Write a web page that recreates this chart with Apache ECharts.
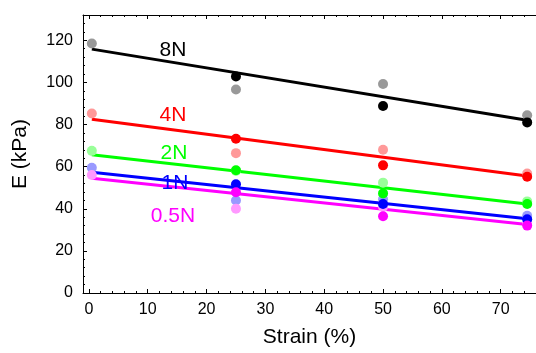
<!DOCTYPE html>
<html>
<head>
<meta charset="utf-8">
<script src="https://cdn.jsdelivr.net/npm/echarts@6/dist/echarts.min.js"></script>
<style>
  html, body { margin: 0; padding: 0; background: #fff; }
  #chart { width: 536px; height: 353px; }
</style>
</head>
<body>
<div id="chart"></div>
<script>
// strain positions of the measurements
const strain = [0.5, 25, 50, 74.5];
// x range of the fitted lines
const fitX = [0.5, 74.5];

// E (kPa), light = sample A, dark = sample B (no dark point at 0)
const e8Light = [118.5, 96.6, 99.2, 84.4];
const e8Dark = [null, 102.8, 88.8, 81.0];
const e4Light = [85.2, 66.4, 68.0, 56.7];
const e4Dark = [null, 73.2, 60.6, 55.2];
const e2Light = [67.5, 58.0, 52.4, 43.5];
const e2Dark = [null, 58.3, 47.3, 42.3];
const e1Light = [59.5, 43.9, 44.5, 36.7];
const e1Dark = [null, 51.6, 42.3, 35.0];
const e05Light = [56.0, 40.0, 40.8, 33.3];
const e05Dark = [null, 47.8, 36.4, 32.0];

// linear fits (start, end)
const fit8 = [115.8, 82.0];
const fit4 = [82.5, 55.6];
const fit2 = [65.6, 42.3];
const fit1 = [57.3, 35.3];
const fit05 = [54.5, 32.5];

const forceLabels = ['8N', '4N', '2N', '1N', '0.5N'];

const chart = echarts.init(document.getElementById('chart'));

const groups = [
  { light: e8Light, dark: e8Dark, fit: fit8, c: '#000000', lc: '#999999' },
  { light: e4Light, dark: e4Dark, fit: fit4, c: '#ff0000', lc: '#ff9999' },
  { light: e2Light, dark: e2Dark, fit: fit2, c: '#00ff00', lc: '#99ff99' },
  { light: e1Light, dark: e1Dark, fit: fit1, c: '#0000ff', lc: '#9999ff' },
  { light: e05Light, dark: e05Dark, fit: fit05, c: '#ff00ff', lc: '#ff99ff' },
];

const pairs = (xs, ys) => xs.map((x, i) => (ys[i] == null ? null : [x, ys[i]])).filter(Boolean);

const series = [];
groups.forEach((g) => {
  series.push({
    type: 'line',
    data: pairs(fitX, g.fit),
    symbol: 'none',
    lineStyle: { color: g.c, width: 3 },
    z: 2,
    silent: true,
  });
});
groups.forEach((g) => {
  series.push({
    type: 'scatter',
    data: pairs(strain, g.light),
    symbolSize: 10,
    itemStyle: { color: g.lc, opacity: 1 },
    z: 3,
  });
});
groups.forEach((g) => {
  series.push({
    type: 'scatter',
    data: pairs(strain, g.dark),
    symbolSize: 10,
    itemStyle: { color: g.c, opacity: 1 },
    z: 4,
  });
});

// text labels next to lines
const labelPos = [
  { x: 173, y: 50 },
  { x: 173, y: 115 },
  { x: 174, y: 153 },
  { x: 175, y: 183 },
  { x: 173, y: 216 },
];
const graphic = forceLabels.map((t, i) => ({
  type: 'text',
  x: labelPos[i].x,
  y: labelPos[i].y,
  z: 10,
  style: {
    text: t,
    fill: groups[i].c,
    font: '21px "Liberation Sans", Arial, sans-serif',
    textAlign: 'center',
    textVerticalAlign: 'middle',
  },
}));

const font = '"Liberation Sans", Arial, sans-serif';

// x axis: no fixed interval, nice ticks at 0,10,...,70 inside [-1, 76]
const xBase = {
  type: 'value',
  min: -1,
  max: 76,
  splitNumber: 8,
  axisLine: { show: true, onZero: false, lineStyle: { color: '#000', width: 1 } },
  axisTick: { show: true, inside: true, length: 4, lineStyle: { color: '#000' } },
  minorTick: { show: true, splitNumber: 5, length: 2, lineStyle: { color: '#000' } },
  splitLine: { show: false },
};

const option = {
  animation: false,
  backgroundColor: '#fff',
  grid: { left: 83, top: 15, right: -3, bottom: 57 },
  xAxis: [
    Object.assign({}, xBase, {
      name: 'Strain (%)',
      nameLocation: 'middle',
      nameGap: 34,
      nameTextStyle: { fontSize: 21, color: '#000', fontFamily: font },
      axisLabel: { fontSize: 16, color: '#000', fontFamily: font, margin: 9, showMinLabel: false, showMaxLabel: false },
    }),
    Object.assign({}, xBase, {
      position: 'top',
      axisLabel: { show: false },
    }),
  ],
  yAxis: {
    type: 'value',
    min: 0,
    max: 132,
    interval: 20,
    name: 'E (kPa)',
    nameLocation: 'middle',
    nameGap: 52,
    nameTextStyle: { fontSize: 21, color: '#000', fontFamily: font },
    axisLine: { show: true, onZero: false, lineStyle: { color: '#000', width: 1 } },
    axisTick: { show: true, inside: true, length: 4, lineStyle: { color: '#000' } },
    minorTick: { show: true, splitNumber: 5, length: 2, lineStyle: { color: '#000' } },
    axisLabel: { fontSize: 16, color: '#000', fontFamily: font, margin: 10, showMaxLabel: false },
    splitLine: { show: false },
  },
  graphic: graphic,
  series: series,
};

chart.setOption(option);
</script>
</body>
</html>
